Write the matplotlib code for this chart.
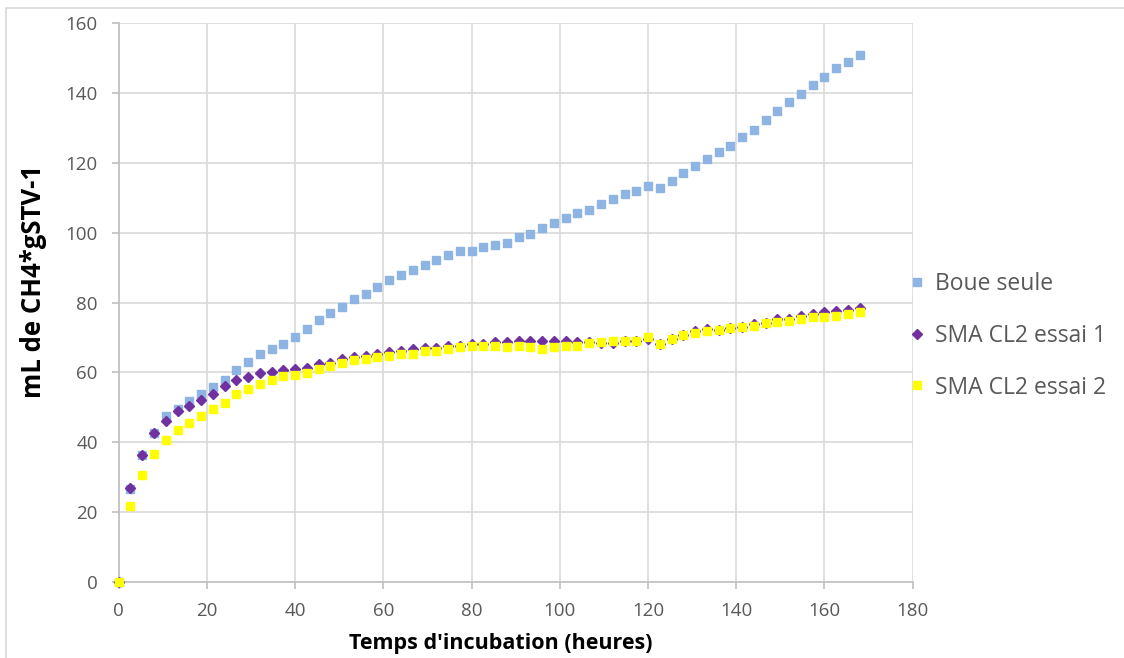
import matplotlib
matplotlib.use("Agg")
import matplotlib.pyplot as plt
from matplotlib.patches import Rectangle

# Incubation time (hours), one reading every 2 h 40 min
temps_h = [0, 2.67, 5.33, 8, 10.67, 13.33, 16, 18.67, 21.33, 24,
           26.67, 29.33, 32, 34.67, 37.33, 40, 42.67, 45.33, 48, 50.67,
           53.33, 56, 58.67, 61.33, 64, 66.67, 69.33, 72, 74.67, 77.33,
           80, 82.67, 85.33, 88, 90.67, 93.33, 96, 98.67, 101.33, 104,
           106.67, 109.33, 112, 114.67, 117.33, 120, 122.67, 125.33, 128, 130.67,
           133.33, 136, 138.67, 141.33, 144, 146.67, 149.33, 152, 154.67, 157.33,
           160, 162.67, 165.33, 168]

# Cumulative methane production (mL CH4 per g STV)
boue_seule = [0, 26.6, 36.5, 42.7, 47.5, 49.6, 51.7, 53.8, 55.8, 57.7,
              60.8, 63.1, 65.2, 66.7, 68.1, 70.1, 72.5, 75.0, 77.0, 78.6,
              80.9, 82.3, 84.4, 86.4, 87.9, 89.3, 90.8, 92.2, 93.7, 94.7,
              94.7, 95.8, 96.3, 97.1, 98.7, 99.7, 101.2, 102.7, 104.2, 105.6,
              106.5, 108.2, 109.6, 111.1, 112.0, 113.4, 112.6, 114.6, 116.9, 118.9,
              120.9, 122.9, 124.8, 127.4, 129.3, 132.3, 134.7, 137.2, 139.6, 142.2,
              144.5, 147.1, 148.9, 150.9]

sma_essai_1 = [0, 27.1, 36.5, 42.6, 46.0, 48.9, 50.4, 52.0, 53.9, 56.2,
               57.7, 58.8, 59.7, 60.2, 60.8, 60.9, 61.3, 62.4, 62.8, 63.9,
               64.4, 64.8, 65.3, 65.9, 66.2, 66.8, 66.9, 66.9, 67.6, 67.7,
               68.1, 68.1, 68.7, 68.6, 69.1, 69.1, 69.1, 69.1, 69.1, 68.7,
               68.6, 68.5, 68.5, 69.0, 69.1, 69.5, 68.0, 69.6, 70.7, 71.9,
               72.4, 72.1, 72.6, 73.1, 73.8, 74.1, 75.2, 75.3, 76.2, 76.7,
               77.2, 77.6, 77.8, 78.5]

sma_essai_2 = [0, 21.9, 30.7, 36.6, 40.6, 43.5, 45.5, 47.5, 49.5, 51.4,
               53.9, 55.3, 56.8, 57.7, 58.9, 59.4, 59.8, 60.9, 61.9, 62.8,
               63.5, 63.8, 64.3, 64.8, 65.2, 65.3, 66.2, 66.2, 66.8, 67.3,
               67.5, 67.6, 67.6, 67.3, 67.7, 67.3, 66.8, 67.3, 67.6, 67.6,
               68.3, 68.6, 69.0, 69.0, 69.0, 70.2, 68.2, 69.6, 70.7, 71.2,
               71.8, 72.1, 72.6, 73.1, 73.3, 74.1, 74.3, 74.7, 75.2, 75.8,
               75.9, 76.2, 76.8, 77.2]

x_ticks = [0, 20, 40, 60, 80, 100, 120, 140, 160, 180]
y_ticks = [0, 20, 40, 60, 80, 100, 120, 140, 160]

plt.rcParams["font.family"] = ["Open Sans", "DejaVu Sans"]

W, H = 1124, 658
fig = plt.figure(figsize=(W / 100, H / 100), dpi=100)
fig.patch.set_facecolor("white")

# thin outer chart frame
fig.patches.append(Rectangle((6 / W, -0.05), 1.2, (658 - 8) / H + 0.05,
                             transform=fig.transFigure, fill=False,
                             edgecolor="#d9d9d9", linewidth=1.2))

ax = fig.add_axes([118.7 / W, (H - 582.3) / H, (912.7 - 118.7) / W, (582.3 - 22.7) / H])

grid_c = "#d9d9d9"
axis_c = "#bfbfbf"
text_c = "#595959"

ax.set_xlim(0, 180)
ax.set_ylim(0, 160)
ax.set_xticks(x_ticks)
ax.set_yticks(y_ticks)
ax.grid(True, color=grid_c, linewidth=1.2, zorder=0)
ax.set_axisbelow(True)
for side in ["top", "right"]:
    ax.spines[side].set_visible(False)
for side in ["left", "bottom"]:
    ax.spines[side].set_color(axis_c)
    ax.spines[side].set_linewidth(1.2)
ax.tick_params(axis="both", colors=axis_c, length=5, width=1.2,
               labelcolor=text_c, labelsize=13.5)
ax.tick_params(axis="x", pad=9)
ax.tick_params(axis="y", pad=10)

ax.plot(temps_h, boue_seule, linestyle="none", marker="s", markersize=5.6,
        color="#8db4e2", label="Boue seule", zorder=3, clip_on=False)
ax.plot(temps_h, sma_essai_1, linestyle="none", marker="D", markersize=4.8,
        color="#7030a0", label="SMA CL2 essai 1", zorder=4, clip_on=False)
ax.plot(temps_h, sma_essai_2, linestyle="none", marker="s", markersize=5.6,
        color="#ffff00", label="SMA CL2 essai 2", zorder=5, clip_on=False)

ax.set_xlabel("Temps d'incubation (heures)", fontsize=15.5, fontweight="bold",
              color="black")
ax.set_ylabel("mL de CH4*gSTV-1", fontsize=18.5, fontweight="bold",
              color="black")
ax.xaxis.set_label_coords(0.481, -0.090)
ax.yaxis.set_label_coords(-0.090, 0.538)

leg = ax.legend(loc="center left", bbox_to_anchor=(911 / W, (H - 336) / H),
                bbox_transform=fig.transFigure, frameon=False, fontsize=16.5,
                handlelength=0.5, handletextpad=0.55, labelspacing=1.2,
                borderpad=0, borderaxespad=0, markerscale=1.0)
for t in leg.get_texts():
    t.set_color(text_c)

fig.savefig("out.png", dpi=100, facecolor="white")
